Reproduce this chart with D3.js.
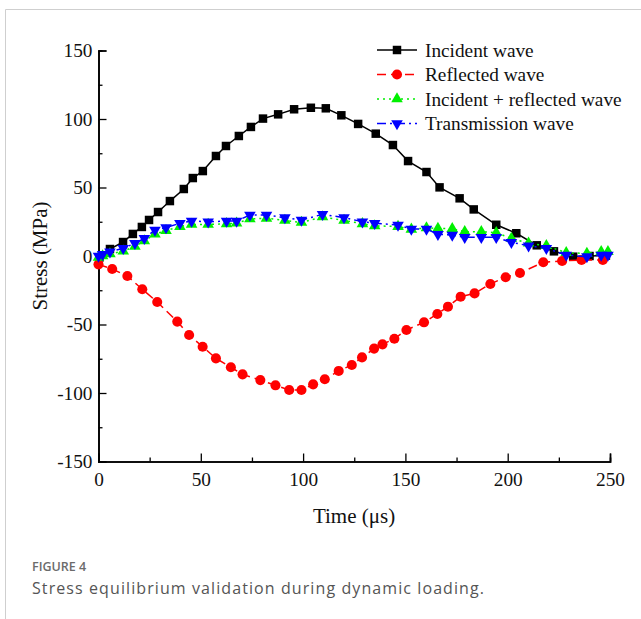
<!DOCTYPE html>
<html>
<head>
<meta charset="utf-8">
<script src="https://cdn.jsdelivr.net/npm/d3@7"></script>
<style>
  html, body { margin: 0; padding: 0; background: #fff; }
  svg { display: block; }
</style>
</head>
<body>
<svg id="chart" width="641" height="619"></svg>
<script>
// Time samples (μs) and stresses (MPa) of each wave
const incidentTime = [0.5, 5.6, 12.0, 16.8, 21.2, 24.7, 29.1, 34.9, 41.7, 46.1, 51.0, 57.4, 62.3, 68.6, 74.5, 80.4,
  87.8, 95.6, 103.8, 111.1, 118.7, 126.9, 135.5, 143.9, 151.3, 160.3, 166.7, 176.5, 183.4, 194.4, 204.2,
  214.2, 222.6, 232.0, 240.0, 248.0];
const incidentStress = [-1, 5.1, 10.2, 16.1, 21.2, 26.3, 32.1, 40.1, 48.9, 56.9, 62.0, 73.0, 80.3, 87.6, 94.2, 100.3,
  103.4, 107.1, 108.2, 107.8, 102.7, 96.4, 89.3, 81.0, 69.3, 61.3, 50.1, 42.1, 34.0, 22.8, 16.6,
  7.8, 3.4, -0.5, 0, 0.3];

const reflectedTime = [0, 6.7, 14.1, 21.4, 28.7, 38.5, 44.3, 50.9, 57.4, 64.7, 70.4, 79.1, 86.5, 93.2, 99.2,
  104.9, 110.6, 117.4, 123.8, 128.8, 134.7, 138.8, 144.6, 150.5, 159.1, 165.6, 170.8, 177.0, 183.8,
  191.5, 199.0, 206.0, 217.4, 226.6, 236.1, 246.5];
const reflectedStress = [-6.1, -9.5, -14.6, -24.3, -33.6, -47.9, -57.7, -66.2, -74.7, -81.2, -86.4, -90.6, -94.4, -97.8, -97.8,
  -93.7, -90.0, -83.9, -79.6, -74.0, -67.6, -64.5, -60.4, -54.0, -48.4, -42.3, -37.0, -29.7, -27.3,
  -20.4, -15.5, -12.4, -4.6, -3.6, -2.9, -2.9];

// Incident + reflected and transmission share the same time samples
const sumTime = [0, 2.0, 5.6, 12.1, 17.8, 22.4, 27.6, 33.0, 39.8, 45.5, 53.6, 62.6, 67.5, 74.0, 82.1, 91.1,
  99.2, 109.5, 120.0, 129.0, 135.0, 146.4, 152.9, 160.3, 165.9, 172.9, 179.0, 187.1, 194.4, 201.8,
  210.2, 218.9, 228.6, 238.7, 245.7, 249.0];
const sumStress = [-1, 0, 1.5, 3.5, 7.0, 11.0, 16.0, 18.5, 21.5, 23.0, 23.0, 23.5, 24.0, 27.0, 27.5, 26.0,
  24.5, 28.5, 26.0, 23.5, 22.0, 21.5, 19.5, 20.5, 20.2, 19.9, 17.7, 17.7, 17.0, 12.9,
  9.3, 7.5, 2.4, 1.9, 3.1, 3.1];
const transmissionStress = [0, 1.2, 3.1, 5.6, 9.3, 12.9, 19.0, 20.7, 23.9, 25.5, 25.0, 25.5, 25.5, 29.9, 29.9, 28.0,
  26.3, 30.4, 28.0, 25.0, 23.9, 22.6, 19.7, 19.7, 15.8, 15.3, 13.6, 13.6, 13.6, 10.0,
  7.5, 5.6, 0.7, -0.5, 0.7, 0.7];

const seriesNames = ["Incident wave", "Reflected wave", "Incident + reflected wave", "Transmission wave"];
const xTickValues = [0, 50, 100, 150, 200, 250];
const yTickValues = [-150, -100, -50, 0, 50, 100, 150];
const xMinorValues = [25, 75, 125, 175, 225];
const yMinorValues = [-125, -75, -25, 25, 75, 125];

const svg = d3.select("#chart");
const serif = "Liberation Serif, Times New Roman, serif";
const tickFont = 19.3;

// Card frame around the figure
svg.append("path")
  .attr("d", "M5.5,619 V9.5 H641")
  .attr("fill", "none")
  .attr("stroke", "#cfcfcf")
  .attr("stroke-width", 1);

const x = d3.scaleLinear().domain([0, 250]).range([98.5, 610]);
const y = d3.scaleLinear().domain([-150, 150]).range([461.5, 50.5]);

const plot = svg.append("g");

// Axes: major ticks every 50, minor every 25, all pointing inward
const plain = d => String(d);
const xAxis = d3.axisBottom(x).tickValues(xTickValues).tickSize(-8).tickPadding(11).tickFormat(plain);
const xMinor = d3.axisBottom(x).tickValues(xMinorValues).tickSize(-4).tickFormat("");
const yAxis = d3.axisLeft(y).tickValues(yTickValues).tickSize(-8).tickPadding(6).tickFormat(plain);
const yMinor = d3.axisLeft(y).tickValues(yMinorValues).tickSize(-4).tickFormat("");

function styleAxis(g) {
  g.attr("font-family", serif).attr("font-size", tickFont);
  g.select(".domain").attr("stroke", "#000").attr("stroke-width", 1.6);
  g.selectAll(".tick line").attr("stroke", "#000").attr("stroke-width", 1.3);
  g.selectAll(".tick text")
    .style("font-family", serif)
    .style("font-size", tickFont + "px")
    .attr("fill", "#111");
}

plot.append("g").attr("transform", `translate(0,${y(-150)})`).call(xMinor).call(styleAxis);
plot.append("g").attr("transform", `translate(0,${y(-150)})`).call(xAxis).call(styleAxis);
plot.append("g").attr("transform", `translate(${x(0)},0)`).call(yMinor).call(styleAxis);
plot.append("g").attr("transform", `translate(${x(0)},0)`).call(yAxis).call(styleAxis);

// Axis titles
svg.append("text")
  .attr("x", 354).attr("y", 523)
  .attr("text-anchor", "middle")
  .style("font-family", serif).style("font-size", "21px").attr("fill", "#111")
  .text("Time (μs)");
svg.append("text")
  .attr("transform", `translate(47,${y(0)}) rotate(-90)`)
  .attr("text-anchor", "middle")
  .style("font-family", serif).style("font-size", "21px").attr("fill", "#111")
  .text("Stress (MPa)");

const seriesDefs = [
  { name: seriesNames[0], t: incidentTime, v: incidentStress, color: "#000000", dash: null, symbol: d3.symbolSquare, size: 72, rot: 0 },
  { name: seriesNames[1], t: reflectedTime, v: reflectedStress, color: "#ff0000", dash: "9,5", symbol: d3.symbolCircle, size: 80, rot: 0 },
  { name: seriesNames[2], t: sumTime, v: sumStress, color: "#00f000", dash: "2,4", symbol: d3.symbolTriangle, size: 58, rot: 0 },
  { name: seriesNames[3], t: sumTime, v: transmissionStress, color: "#0000ff", dash: "9,4,2,4", symbol: d3.symbolTriangle, size: 58, rot: 180 }
];

const line = d3.line().x(d => x(d[0])).y(d => y(d[1]));

seriesDefs.forEach(s => {
  const pts = s.t.map((t, i) => [t, s.v[i]]);
  const g = plot.append("g");
  g.append("path")
    .attr("d", line(pts))
    .attr("fill", "none")
    .attr("stroke", s.color)
    .attr("stroke-width", 1.5)
    .attr("stroke-dasharray", s.dash);
  g.selectAll("path.m").data(pts).join("path")
    .attr("class", "m")
    .attr("transform", d => `translate(${x(d[0])},${y(d[1])}) rotate(${s.rot})`)
    .attr("d", d3.symbol().type(s.symbol).size(s.size))
    .attr("fill", s.color);
});

// Legend
const legend = svg.append("g");
seriesDefs.forEach((s, i) => {
  const ly = 50 + i * 24.5;
  legend.append("line")
    .attr("x1", 377).attr("x2", 417).attr("y1", ly).attr("y2", ly)
    .attr("stroke", s.color).attr("stroke-width", 1.5)
    .attr("stroke-dasharray", s.dash);
  legend.append("path")
    .attr("transform", `translate(397,${ly}) rotate(${s.rot})`)
    .attr("d", d3.symbol().type(s.symbol).size(s.size))
    .attr("fill", s.color);
  legend.append("text")
    .attr("x", 425).attr("y", ly + 6.5)
    .style("font-family", serif).style("font-size", tickFont + "px").attr("fill", "#111")
    .text(s.name);
});

// Figure caption
svg.append("text")
  .attr("x", 32).attr("y", 571)
  .style("font-family", "Open Sans, Noto Sans, sans-serif").style("font-size", "12.5px")
  .style("font-weight", 600).attr("fill", "#6b6b6b")
  .text("FIGURE 4");
svg.append("text")
  .attr("x", 32).attr("y", 593.5)
  .style("font-family", "Open Sans, Noto Sans, sans-serif").style("font-size", "16px")
  .attr("fill", "#555")
  .attr("textLength", 452).attr("lengthAdjust", "spacing")
  .text("Stress equilibrium validation during dynamic loading.");
</script>
</body>
</html>
